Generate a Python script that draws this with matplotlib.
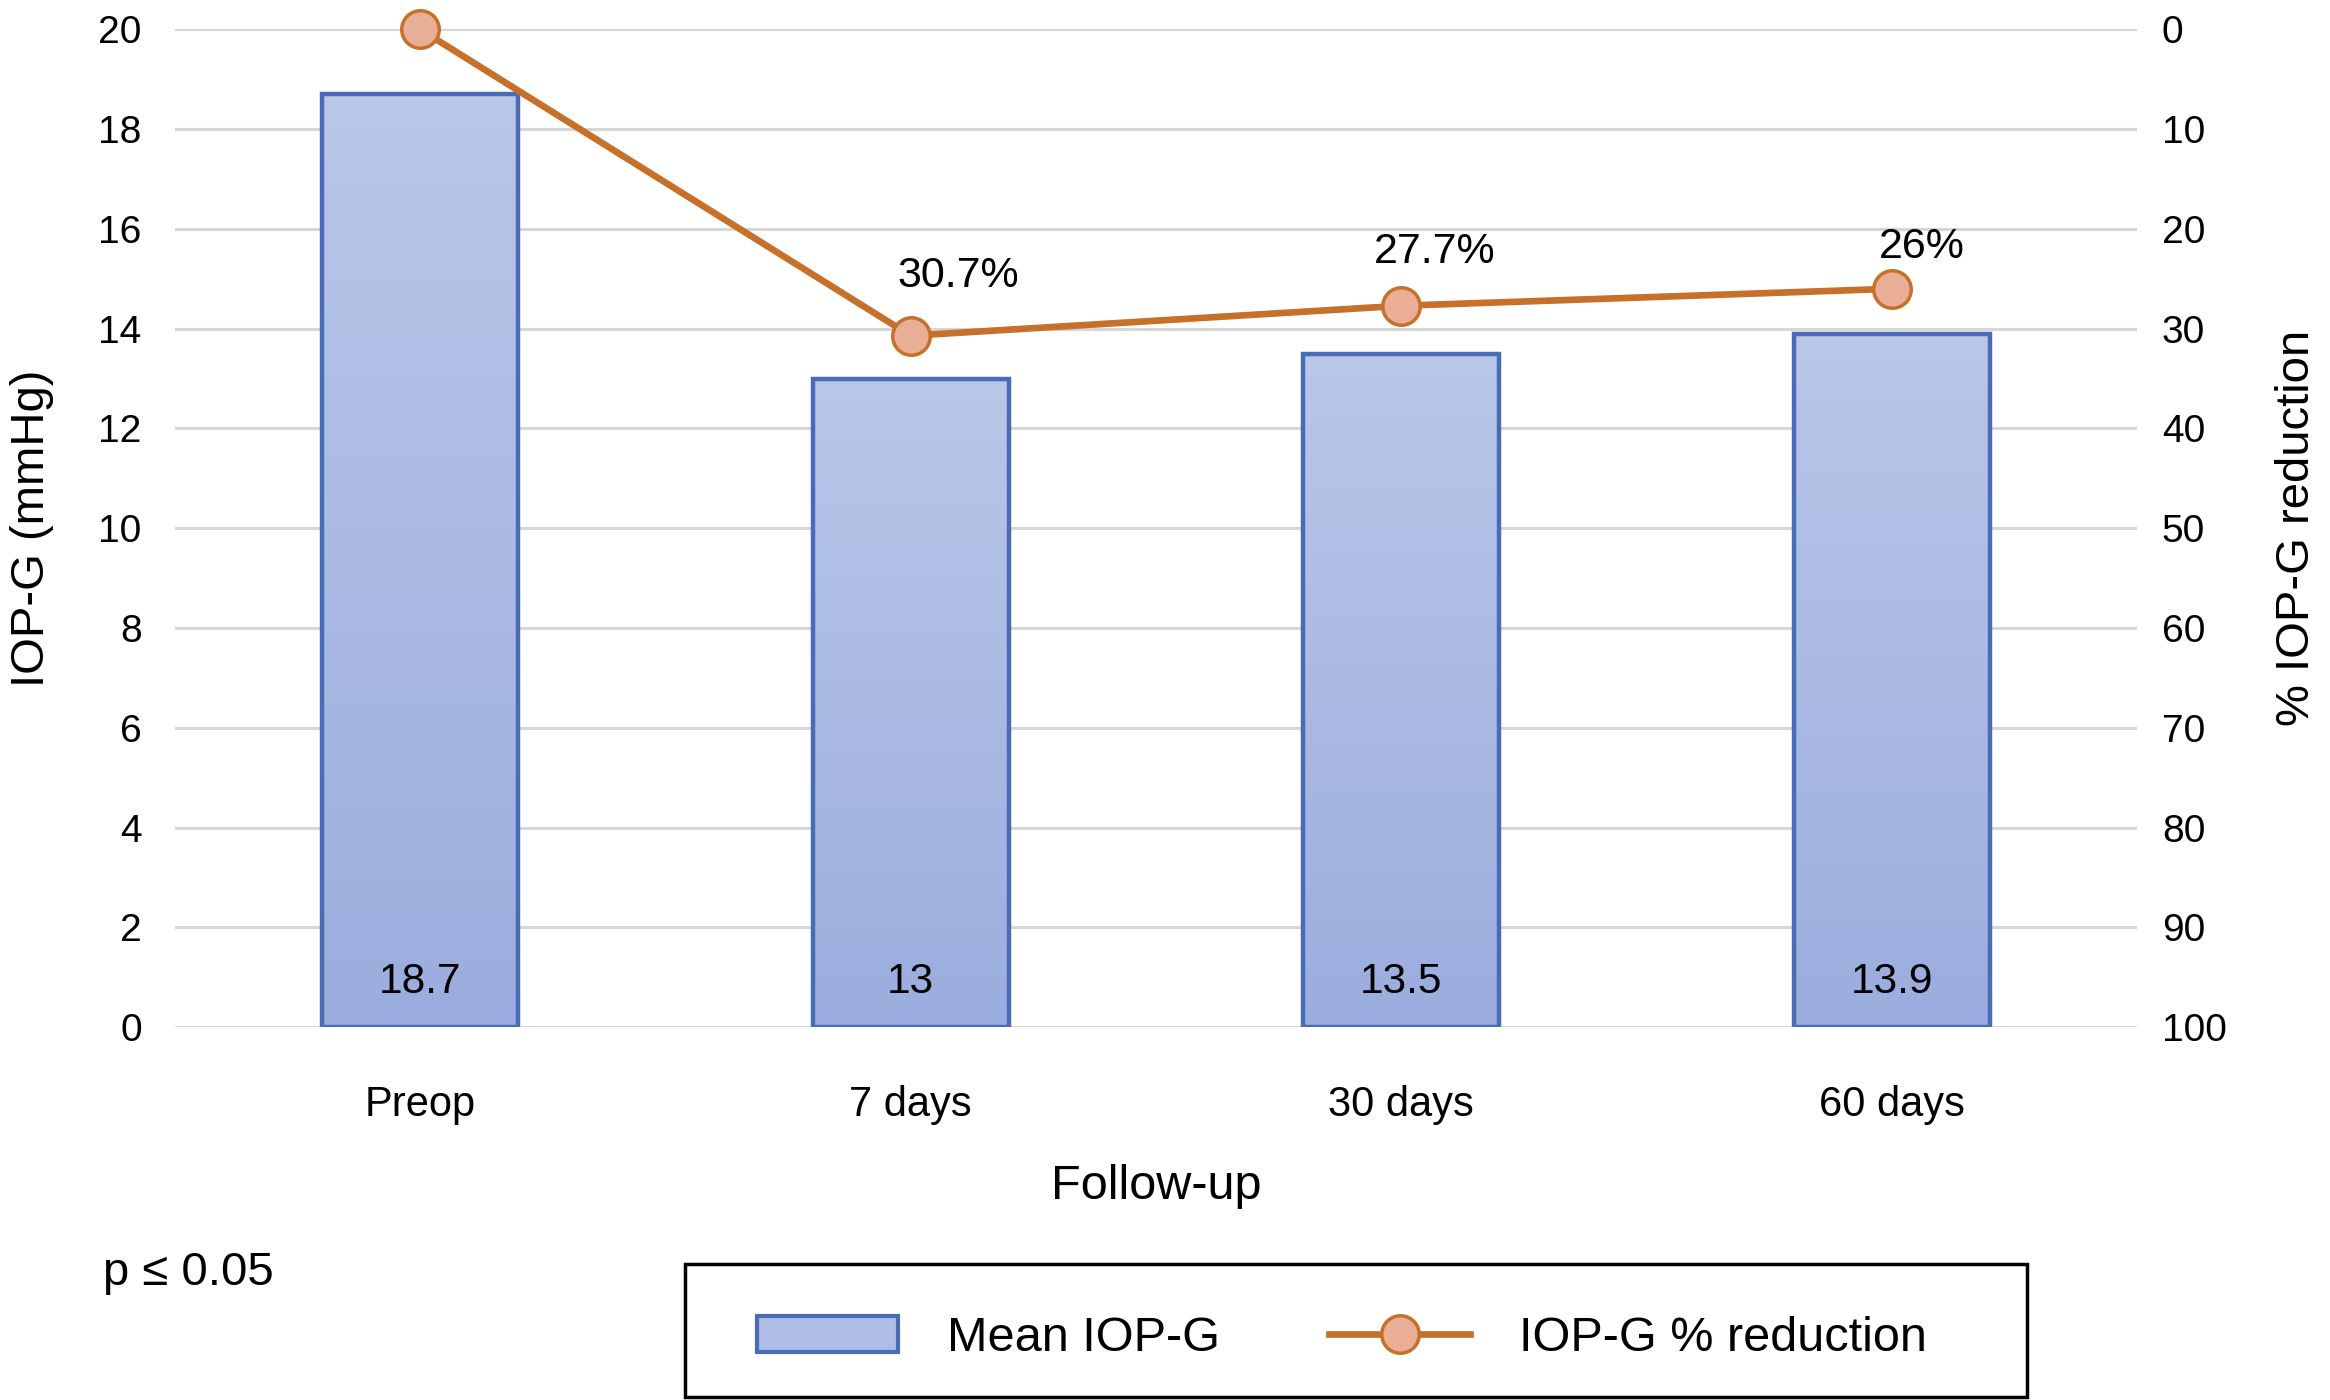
import numpy as np
import matplotlib
matplotlib.use('Agg')
import matplotlib.pyplot as plt
from matplotlib.patches import Patch, Rectangle
from matplotlib.lines import Line2D

categories = ['Preop', '7 days', '30 days', '60 days']
mean_iop = [18.7, 13, 13.5, 13.9]
bar_labels = ['18.7', '13', '13.5', '13.9']
pct_reduction = [0, 30.7, 27.7, 26]
pct_labels = ['', '30.7%', '27.7%', '26%']

# where each % label sits relative to its marker (points)
label_offsets = [(0, 0), (34, 43), (24, 39), (22, 30)]

plt.rcParams['font.family'] = ['Liberation Sans', 'DejaVu Sans']

bar_edge = '#4a6bb5'
line_col = '#c6702a'
marker_face = '#e8ae96'

fig = plt.figure(figsize=(23.3, 14), dpi=100)
ax = fig.add_axes([0.0751, 0.2664, 0.842, 0.7126])

x = np.arange(len(categories))
bars = ax.bar(x, mean_iop, width=0.4, color='none', edgecolor=bar_edge, linewidth=3.2, zorder=3)

# vertical gradient fill for each bar
grad = np.linspace(0, 1, 256).reshape(-1, 1)
cmap = matplotlib.colors.LinearSegmentedColormap.from_list('g', ['#9badde', '#b9c7e8'])
for b in bars:
    x0, y0 = b.get_x(), b.get_y()
    w, h = b.get_width(), b.get_height()
    im = ax.imshow(grad, extent=[x0, x0 + w, y0, y0 + h], origin='lower', cmap=cmap,
                   aspect='auto', zorder=2)
    im.set_clip_path(b)

for xi, lab in zip(x, bar_labels):
    ax.text(xi, 0.9, lab, ha='center', va='center', fontsize=30.5, zorder=5)

ax.set_xlim(-0.5, 3.5)
ax.set_ylim(0, 20)
ax.set_yticks(np.arange(0, 21, 2))
ax.set_xticks(x)
ax.set_xticklabels(categories)
ax.tick_params(axis='both', length=0, labelsize=28)
ax.tick_params(axis='x', pad=42, labelsize=30)
ax.tick_params(axis='y', pad=24)
ax.yaxis.grid(True, color='#d6d6d6', linewidth=2.2, zorder=0)
ax.set_axisbelow(True)
for s in ax.spines.values():
    s.set_visible(False)
ax.set_ylabel('IOP-G (mmHg)', fontsize=34, labelpad=32)
ax.set_xlabel('Follow-up', fontsize=35, labelpad=28)

ax2 = ax.twinx()
ax2.plot(x, pct_reduction, color=line_col, linewidth=4.8, marker='o', markersize=27,
         markerfacecolor=marker_face, markeredgecolor=line_col, markeredgewidth=2.5,
         zorder=6, clip_on=False)
ax2.set_ylim(100, 0)
ax2.set_yticks(np.arange(0, 101, 10))
ax2.tick_params(axis='y', length=0, labelsize=28, pad=18)
for s in ax2.spines.values():
    s.set_visible(False)
ax2.set_ylabel('% IOP-G reduction', fontsize=34, labelpad=35)
for xi, yi, lab, off in zip(x, pct_reduction, pct_labels, label_offsets):
    if lab:
        ax2.annotate(lab, (xi, yi), xytext=off, textcoords='offset points',
                     ha='center', va='center', fontsize=31)

fig.text(0.044, 0.091, 'p \u2264 0.05', fontsize=34, va='center')

# legend frame drawn separately so the box size matches
fig.patches.append(Rectangle((0.294, 0.002), 0.576, 0.095, transform=fig.transFigure,
                             fill=False, edgecolor='black', linewidth=2.5))
handles = [Patch(facecolor='#aebde5', edgecolor=bar_edge, linewidth=3),
           Line2D([0], [0], color=line_col, linewidth=4.8, marker='o', markersize=27,
                  markerfacecolor=marker_face, markeredgecolor=line_col, markeredgewidth=2.5)]
leg = fig.legend(handles, ['Mean IOP-G', 'IOP-G % reduction'], loc='center',
                 bbox_to_anchor=(0.576, 0.044), ncol=2,
                 fontsize=35, frameon=False, handlelength=2.9,
                 handleheight=0.75, handletextpad=1.0, columnspacing=2.25)

fig.savefig('out.png', dpi=100)
